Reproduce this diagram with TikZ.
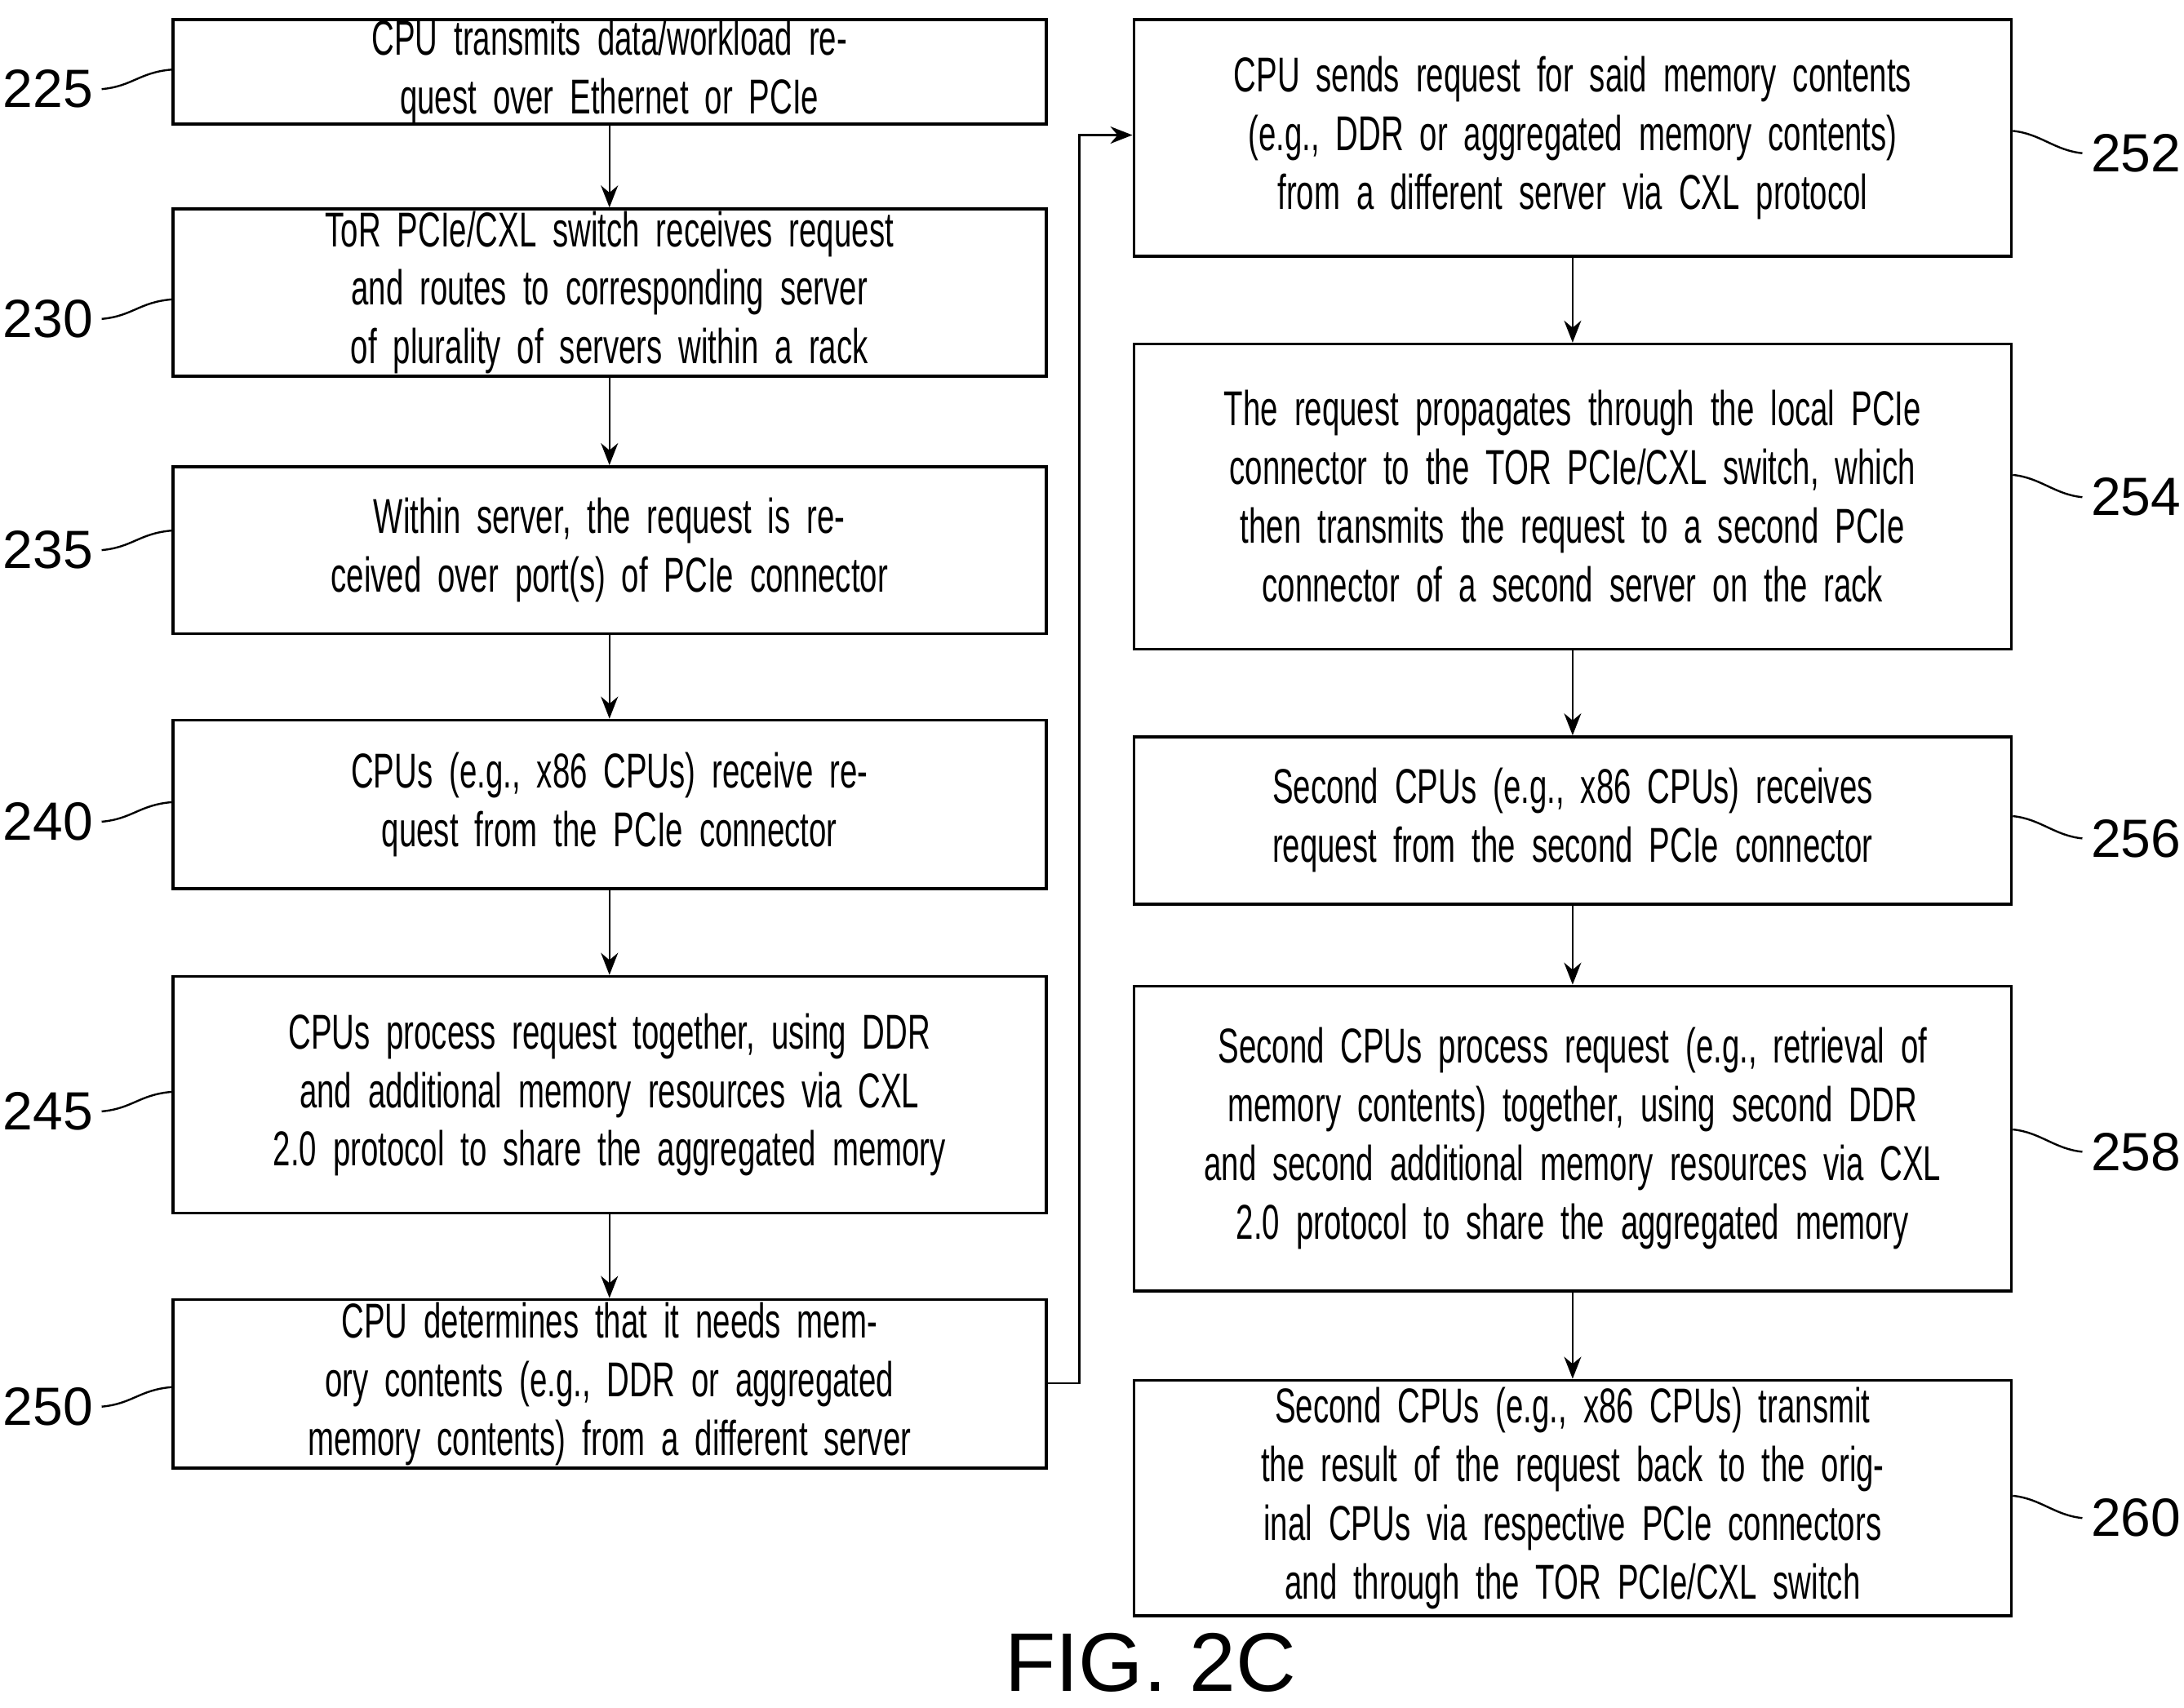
\documentclass[tikz,border=0pt]{standalone}
\usepackage{fontspec}
\setmainfont{Liberation Sans}[FakeStretch=0.64]
\usepackage{tikz}
\usetikzlibrary{positioning, arrows.meta, calc}

\tikzset{
    stepbox/.style={draw, line width=1.2pt, align=center, font=\fontsize{20}{24}\selectfont,
        inner sep=0pt, anchor=north west},
    reflabel/.style={font=\fontsize{22}{24}\selectfont\addfontfeature{FakeStretch=1.0}},
    flow/.style={-{Stealth[length=9pt, width=7pt]}, line width=0.8pt},
    tick/.style={line width=0.8pt}
}

% one unit = one pixel of the scanned figure
\newcommand{\stepnode}[6]{%
  \node[stepbox, minimum width=#3*0.02cm, minimum height=#4*0.02cm, text width=#3*0.02cm-30pt]
    (#1) at (#2) {#6};
}

\begin{document}
\begin{tikzpicture}[x=0.02cm, y=-0.02cm]
    \useasboundingbox (0,0) rectangle (1568,1226);

    % left column
    \stepnode{s225}{123,13}{627}{72}{}{CPU transmits data/workload request over Ethernet or PCIe}
    \stepnode{s230}{123,149}{627}{120}{}{ToR PCIe/CXL switch receives request and routes to corresponding server of plurality of servers within a rack}
    \stepnode{s235}{123,334}{627}{120}{}{Within server, the request is received over port(s) of PCIe connector}
    \stepnode{s240}{123,516}{627}{121}{}{CPUs (e.g., x86 CPUs) receive request from the PCIe connector}
    \stepnode{s245}{123,700}{627}{170}{}{CPUs process request together, using DDR and additional memory resources via CXL 2.0 protocol to share the aggregated memory}
    \stepnode{s250}{123,932}{627}{121}{}{CPU determines that it needs memory contents (e.g., DDR or aggregated memory contents) from a different server}

    % right column
    \stepnode{s252}{813,13}{630}{170}{}{CPU sends request for said memory contents (e.g., DDR or aggregated memory contents) from a different server via CXL protocol}
    \stepnode{s254}{813,246}{630}{219}{}{The request propagates through the local PCIe connector to the TOR PCIe/CXL switch, which then transmits the request to a second PCIe connector of a second server on the rack}
    \stepnode{s256}{813,528}{630}{120}{}{Second CPUs (e.g., x86 CPUs) receives request from the second PCIe connector}
    \stepnode{s258}{813,707}{630}{219}{}{Second CPUs process request (e.g., retrieval of memory contents) together, using second DDR and second additional memory resources via CXL 2.0 protocol to share the aggregated memory}
    \stepnode{s260}{813,990}{630}{169}{}{Second CPUs (e.g., x86 CPUs) transmit the result of the request back to the original CPUs via respective PCIe connectors and through the TOR PCIe/CXL switch}

    \draw[flow] (s225) -- (s230);
    \draw[flow] (s230) -- (s235);
    \draw[flow] (s235) -- (s240);
    \draw[flow] (s240) -- (s245);
    \draw[flow] (s245) -- (s250);
    \draw[flow] (s250.east |- 0,993) -- (775,993) -- (775,97) -- (s252.west |- 0,97);
    \draw[flow] (s252) -- (s254);
    \draw[flow] (s254) -- (s256);
    \draw[flow] (s256) -- (s258);
    \draw[flow] (s258) -- (s260);

    % reference numerals
    \foreach \num/\bx/\yy in {225/s225/64, 230/s230/229, 235/s235/395, 240/s240/590, 245/s245/798, 250/s250/1010} {
        \node[reflabel, anchor=east] (l\num) at (73,\yy) {\num};
        \draw[tick] (l\num.east) .. controls (95,\yy-2) and (100,\yy-12) .. (\bx.west |- 0,\yy-14);
    }
    \foreach \num/\bx/\yy in {252/s252/110, 254/s254/357, 256/s256/602, 258/s258/827, 260/s260/1090} {
        \node[reflabel, anchor=west] (l\num) at (1495,\yy) {\num};
        \draw[tick] (l\num.west) .. controls (1475,\yy-2) and (1465,\yy-14) .. (\bx.east |- 0,\yy-16);
    }

    \node[font=\fontsize{34}{36}\selectfont\addfontfeature{FakeStretch=1.0}] (fig) at (826,1194) {FIG. 2C};
\end{tikzpicture}
\end{document}
